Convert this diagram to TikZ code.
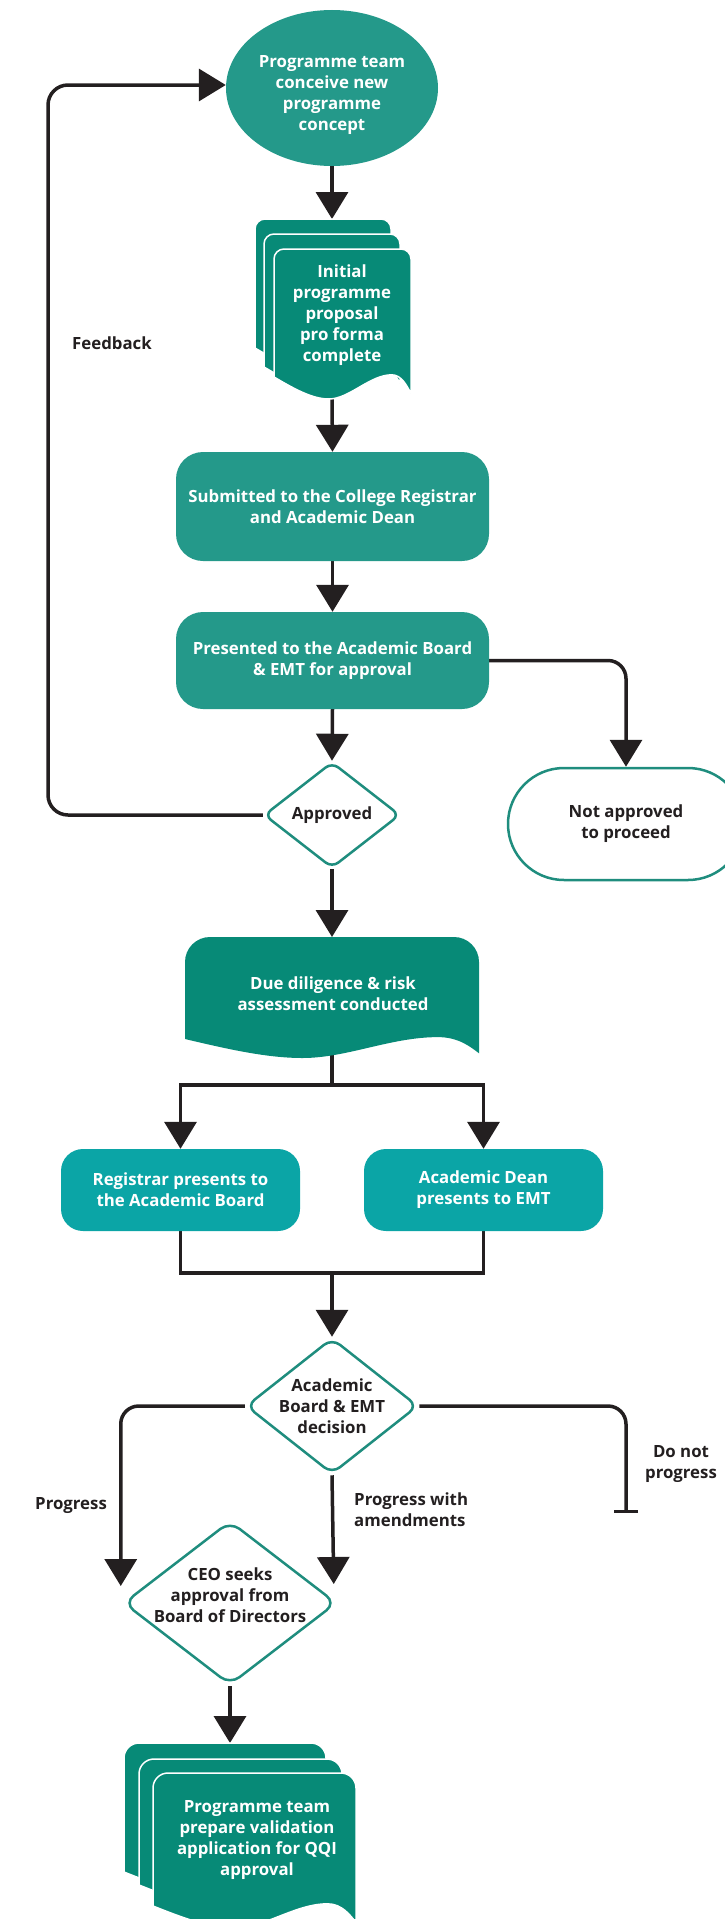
\documentclass[tikz,border=0pt]{standalone}
\usepackage{fontspec}
\setmainfont{Open Sans}
\usetikzlibrary{shapes.geometric, arrows.meta, backgrounds}

\definecolor{tealmain}{HTML}{24998A}
\definecolor{tealdoc}{HTML}{078A77}
\definecolor{tealcyan}{HTML}{0BA5A6}
\definecolor{tealline}{HTML}{1F8D7E}
\definecolor{ink}{HTML}{231F20}

\newcommand{\flowfont}{\fontsize{16.8}{21}\selectfont\bfseries}

% document shape with rounded top corners and a wavy bottom edge
% #1 left, #2 top, #3 right, #4 bottom (left side), #5 wave depth, #6 corner radius, #7 style
\newcommand{\wavedoc}[7]{%
  \path[#7] (#1,#4) -- (#1,{#2+#6})
    arc[start angle=180,end angle=270,radius=#6] -- ({#3-#6},#2)
    arc[start angle=270,end angle=360,radius=#6] -- (#3,{#4+0.75*#5})
    .. controls ({#1+0.97*(#3-#1)},{#4+0.4*#5}) and ({#1+0.93*(#3-#1)},{#4-0.1*#5}) .. ({#1+0.86*(#3-#1)},{#4-0.1*#5})
    .. controls ({#1+0.7*(#3-#1)},{#4-0.1*#5}) and ({#1+0.55*(#3-#1)},{#4+#5}) .. ({#1+0.4*(#3-#1)},{#4+#5})
    .. controls ({#1+0.28*(#3-#1)},{#4+#5}) and ({#1+0.15*(#3-#1)},{#4+0.55*#5}) .. (#1,#4) -- cycle;}

\tikzset{
  flow/.style={draw=ink, line width=3.5pt, rounded corners=18pt, -{Triangle[length=27pt,width=32pt]}},
  plainflow/.style={draw=ink, line width=3.5pt},
  startnode/.style={ellipse, fill=tealmain, inner sep=0pt},
  boxA/.style={rectangle, rounded corners=27pt, fill=tealmain, inner sep=0pt, align=center, text=white, font=\flowfont},
  boxB/.style={rectangle, rounded corners=22pt, fill=tealcyan, inner sep=0pt, align=center, text=white, font=\flowfont},
  decide/.style={diamond, draw=tealline, line width=2.5pt, fill=white, inner sep=0pt},
  terminal/.style={rectangle, rounded corners=56pt, draw=tealline, line width=2.5pt, fill=white, inner sep=0pt, align=center, text=ink, font=\flowfont},
  page/.style={fill=tealdoc, draw=white, line width=1.5pt},
  wtxt/.style={align=center, text=white, font=\flowfont, inner sep=0pt},
  ktxt/.style={align=center, text=ink, font=\flowfont, inner sep=0pt},
}

\begin{document}
\begin{tikzpicture}[x=1pt,y=-1pt]
\useasboundingbox (0,0) rectangle (725,1919);

% ---- concept
\node[startnode, minimum width=212pt, minimum height=156pt] (concept) at (332,88) {};
\node[wtxt] (conceptText) at (332,95) {Programme team\\conceive new\\programme\\concept};

% ---- proposal pro forma (stack of pages)
\wavedoc{255}{219}{391}{348}{22}{10}{page}
\wavedoc{264}{234}{400}{367}{22}{10}{page}
\wavedoc{274}{249}{411}{377}{22}{10}{page}
\coordinate (proposalIn) at (332,219);
\coordinate (proposalOut) at (332,398);
\node[wtxt] (proposalText) at (342,315) {Initial\\programme\\proposal\\pro forma\\complete};

% ---- registrar / dean submission
\node[boxA, minimum width=313pt, minimum height=109pt] (submitted) at (332.5,506.5)
  {Submitted to the College Registrar\\and Academic Dean};
\node[boxA, minimum width=313pt, minimum height=97pt] (presented) at (332.5,660.5)
  {Presented to the Academic Board\\\& EMT for approval};

% ---- approval decision
\node[decide, rounded corners=8pt, minimum width=136pt, minimum height=106pt] (approved) at (332,815) {};
\node[ktxt] (approvedText) at (332,815) {Approved};
\node[terminal, minimum width=236pt, minimum height=112pt] (notapp) at (626,824) {Not approved\\to proceed};

% ---- due diligence
\wavedoc{185}{937}{479}{1039}{19}{25}{fill=tealdoc}
\coordinate (dueIn) at (332,937);
\coordinate (dueOut) at (332,1055);
\node[wtxt] (dueText) at (333,993.5) {Due diligence \& risk\\assessment conducted};

\node[boxB, minimum width=239pt, minimum height=82pt] (registrar) at (180.5,1190)
  {Registrar presents to\\the Academic Board};
\node[boxB, minimum width=239pt, minimum height=82pt] (dean) at (483.5,1190)
  {Academic Dean\\presents to EMT};

% ---- board decision
\node[decide, rounded corners=10pt, minimum width=172pt, minimum height=136pt] (decision) at (332,1406) {};
\node[ktxt] (decisionText) at (332,1406) {Academic\\Board \& EMT\\decision};

\node[decide, rounded corners=12pt, minimum width=213pt, minimum height=164pt] (ceo) at (230,1603) {};
\node[ktxt] (ceoText) at (230,1595) {CEO seeks\\approval from\\Board of Directors};

% ---- validation application (stack of pages)
\wavedoc{124}{1743}{326}{1872}{22}{15}{page}
\wavedoc{139}{1759}{342}{1885}{22}{15}{page}
\wavedoc{153}{1773}{356}{1906}{22}{15}{page}
\coordinate (validIn) at (230,1743);
\node[wtxt] (validText) at (257,1840) {Programme team\\prepare validation\\application for QQI\\approval};

% ---- connector helpers
\coordinate (fbTurn) at (48,450);
\coordinate (splitTop) at (332,1085);
\coordinate (joinBot) at (332,1273);
\coordinate (stopEnd) at (626,1513);

% ---- labels
\node[ktxt, anchor=west] (fbLabel) at (72,343) {Feedback};
\node[ktxt, anchor=west] (progLabel) at (35,1506) {Progress};
\node[ktxt, anchor=west, align=left] (amendLabel) at (354,1509.5) {Progress with\\amendments};
\node[ktxt] (stopLabel) at (681,1464.5) {Do not\\progress};

% ---- connectors
\begin{scope}[on background layer]
\draw[flow] (concept.south) -- (proposalIn);
\draw[flow] (proposalOut) -- (submitted.north);
\draw[flow] (submitted.south) -- (presented.north);
\draw[flow] (presented.south) -- (approved.north);
\draw[flow] (presented.east) -| (notapp.north);
\draw[flow, rounded corners=20pt] (approved.west) -| (fbTurn) |- ([yshift=3pt]concept.west);
\draw[flow] (approved.south) -- (dueIn);
\draw[plainflow] (dueOut) -- (splitTop);
\draw[flow, rounded corners=0pt] (splitTop) -| (registrar.north);
\draw[flow, rounded corners=0pt] (splitTop) -| (dean.north);
\draw[plainflow, line join=miter] (registrar.south) |- (joinBot) -| (dean.south);
\draw[flow] (joinBot) -- (decision.north);
\draw[flow] (decision.west) -| ([shift={(-1.5pt,17pt)}]ceo.west);
\draw[flow] (decision.south) -- ([shift={(-4pt,19pt)}]ceo.east);
\draw[draw=ink, line width=3.5pt, rounded corners=18pt, -{Bar[width=24pt, line width=3.5pt]}] (decision.east) -| (stopEnd);
\draw[flow] (ceo.south) -- (validIn);
\end{scope}
\end{tikzpicture}
\end{document}
